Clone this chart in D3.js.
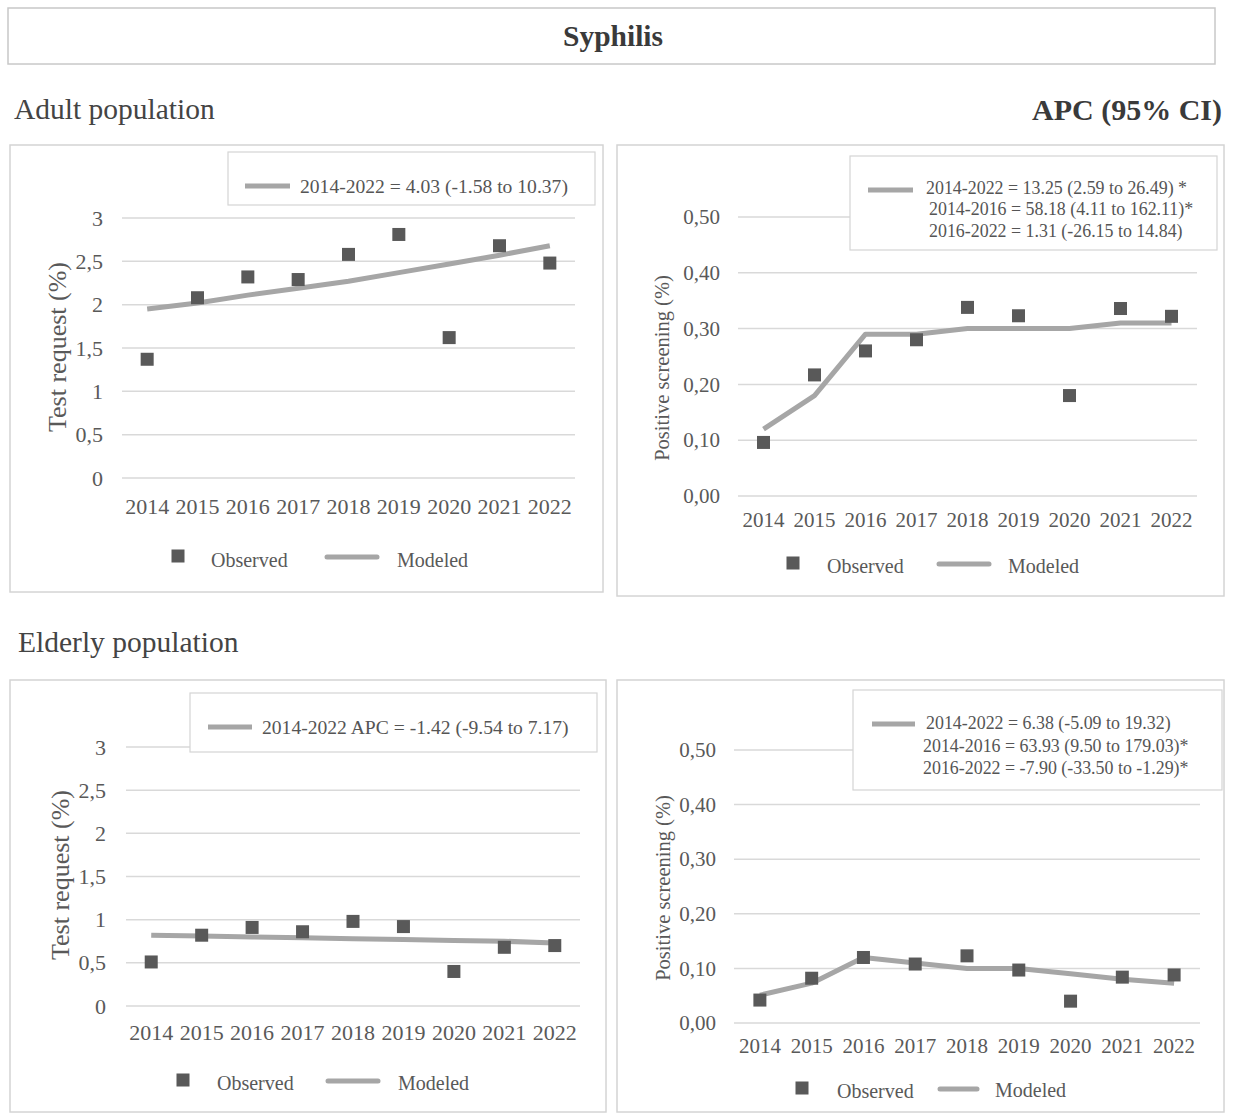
<!DOCTYPE html>
<html>
<head>
<meta charset="utf-8">
<script src="https://cdn.jsdelivr.net/npm/d3@7"></script>
<style>
  body { margin: 0; background: #fff; }
  text { font-family: "Liberation Serif", "Times New Roman", serif; }
</style>
</head>
<body>
<svg id="fig" width="1233" height="1113"></svg>
<script>
// Data
const years = [2014, 2015, 2016, 2017, 2018, 2019, 2020, 2021, 2022];

const adultTestObserved = [1.37, 2.08, 2.32, 2.29, 2.58, 2.81, 1.62, 2.68, 2.48];
const adultTestModeled  = [1.95, 2.02, 2.11, 2.19, 2.27, 2.37, 2.47, 2.57, 2.68];

const adultPosObserved = [0.096, 0.217, 0.26, 0.28, 0.338, 0.323, 0.18, 0.336, 0.322];
const adultPosModeled  = [0.12, 0.18, 0.29, 0.29, 0.30, 0.30, 0.30, 0.31, 0.31];

const elderlyTestObserved = [0.51, 0.82, 0.91, 0.86, 0.98, 0.92, 0.40, 0.68, 0.70];
const elderlyTestModeled  = [0.82, 0.81, 0.80, 0.79, 0.78, 0.77, 0.76, 0.75, 0.73];

const elderlyPosObserved = [0.042, 0.082, 0.12, 0.108, 0.123, 0.097, 0.04, 0.084, 0.088];
const elderlyPosModeled  = [0.051, 0.073, 0.12, 0.11, 0.10, 0.10, 0.09, 0.08, 0.073];

const testTicks = [0, 0.5, 1, 1.5, 2, 2.5, 3];
const posTicks = [0, 0.1, 0.2, 0.3, 0.4, 0.5];

const apcAdultTest = ["2014-2022 = 4.03 (-1.58 to 10.37)"];
const apcAdultPos = ["2014-2022 = 13.25 (2.59 to 26.49) *",
                     "2014-2016 = 58.18 (4.11 to 162.11)*",
                     "2016-2022 = 1.31 (-26.15 to 14.84)"];
const apcElderlyTest = ["2014-2022 APC = -1.42 (-9.54 to 7.17)"];
const apcElderlyPos = ["2014-2022 = 6.38 (-5.09 to 19.32)",
                       "2014-2016 = 63.93 (9.50 to 179.03)*",
                       "2016-2022 = -7.90 (-33.50 to -1.29)*"];

const legendLabels = ["Observed", "Modeled"];

// styling
const serif = '"Liberation Serif", "Times New Roman", serif';
const markColor = "#595959";
const lineColor = "#a6a6a6";
const gridColor = "#d9d9d9";
const textColor = "#595959";

const svg = d3.select("#fig");

// header
svg.append("rect")
  .attr("x", 8).attr("y", 8).attr("width", 1207).attr("height", 56)
  .attr("fill", "none").attr("stroke", "#c8c8c8").attr("stroke-width", 1.5);
svg.append("text")
  .attr("x", 613).attr("y", 36).attr("dy", "0.35em")
  .attr("text-anchor", "middle").attr("font-weight", "bold")
  .attr("font-size", 29.5).attr("fill", "#3a3a3a")
  .text("Syphilis");
svg.append("text")
  .attr("x", 14).attr("y", 109).attr("dy", "0.35em")
  .attr("font-size", 29.5).attr("fill", "#444")
  .text("Adult population");
svg.append("text")
  .attr("x", 1222).attr("y", 109).attr("dy", "0.35em")
  .attr("text-anchor", "end").attr("font-weight", "bold")
  .attr("font-size", 30).attr("fill", "#3a3a3a")
  .text("APC (95% CI)");
svg.append("text")
  .attr("x", 18).attr("y", 642).attr("dy", "0.35em")
  .attr("font-size", 29.5).attr("fill", "#444")
  .text("Elderly population");

const commaFmt = d => String(d).replace(".", ",");
const comma2Fmt = d => d3.format(".2f")(d).replace(".", ",");

function drawPanel(p) {
  const g = svg.append("g");

  // outer frame
  g.append("rect")
    .attr("x", p.frame[0]).attr("y", p.frame[1])
    .attr("width", p.frame[2] - p.frame[0]).attr("height", p.frame[3] - p.frame[1])
    .attr("fill", "none").attr("stroke", "#d4d4d4").attr("stroke-width", 1.5);

  const x = d3.scaleBand().domain(years).range([p.x0, p.x1]);
  const y = d3.scaleLinear().domain([0, d3.max(p.ticks)]).range([p.y0, p.y1]);
  const cx = d => x(d) + x.bandwidth() / 2;

  // gridlines
  g.selectAll(".grid").data(p.ticks).join("line")
    .attr("x1", p.x0).attr("x2", p.x1)
    .attr("y1", d => y(d)).attr("y2", d => y(d))
    .attr("stroke", gridColor).attr("stroke-width", 1.5);

  // y axis labels
  g.append("g")
    .attr("transform", `translate(${p.x0},0)`)
    .call(d3.axisLeft(y).tickValues(p.ticks).tickSize(0).tickPadding(p.yPad).tickFormat(p.fmt))
    .attr("font-family", serif).attr("font-size", p.tickFont)
    .call(a => a.select(".domain").remove())
    .selectAll("text").attr("fill", textColor);

  // x axis labels
  g.append("g")
    .attr("transform", `translate(0,${p.xLabelY})`)
    .call(d3.axisBottom(x).tickSize(0).tickPadding(0))
    .attr("font-family", serif).attr("font-size", p.tickFont)
    .call(a => a.select(".domain").remove())
    .selectAll("text").attr("fill", textColor).attr("dy", "0.35em");

  // y title
  g.append("text")
    .attr("transform", `translate(${p.yTitle[0]},${p.yTitle[1]}) rotate(-90)`)
    .attr("text-anchor", "middle").attr("dy", "0.35em")
    .attr("font-size", p.yTitleFont).attr("fill", textColor)
    .text(p.yLabel);

  // modeled line
  const line = d3.line().x((d, i) => cx(years[i])).y(d => y(d));
  g.append("path")
    .datum(p.modeled)
    .attr("d", line)
    .attr("fill", "none").attr("stroke", lineColor)
    .attr("stroke-width", 5).attr("stroke-linejoin", "round");

  // observed markers
  const ms = 13;
  g.selectAll(".obs").data(p.observed).join("rect")
    .attr("x", (d, i) => cx(years[i]) - ms / 2)
    .attr("y", d => y(d) - ms / 2)
    .attr("width", ms).attr("height", ms)
    .attr("fill", markColor);

  // APC box
  const b = p.apcBox;
  g.append("rect")
    .attr("x", b.x).attr("y", b.y).attr("width", b.w).attr("height", b.h)
    .attr("fill", "#fff").attr("stroke", "#d4d4d4").attr("stroke-width", 1.2);
  g.append("line")
    .attr("x1", b.lx0).attr("x2", b.lx1).attr("y1", b.ly).attr("y2", b.ly)
    .attr("stroke", lineColor).attr("stroke-width", 5);
  g.selectAll(".apc").data(p.apc).join("text")
    .attr("x", (d, i) => b.tx[i])
    .attr("y", (d, i) => b.ty[i]).attr("dy", "0.35em")
    .attr("font-size", b.font).attr("fill", "#555")
    .text(d => d);

  // bottom legend
  const L = p.legend;
  g.append("rect")
    .attr("x", L.sq[0] - ms / 2).attr("y", L.sq[1] - ms / 2)
    .attr("width", ms).attr("height", ms).attr("fill", markColor);
  g.append("text")
    .attr("x", L.obs[0]).attr("y", L.obs[1]).attr("dy", "0.35em")
    .attr("font-size", 20).attr("fill", textColor)
    .text(legendLabels[0]);
  g.append("line")
    .attr("x1", L.line[0]).attr("x2", L.line[1]).attr("y1", L.line[2]).attr("y2", L.line[2])
    .attr("stroke", lineColor).attr("stroke-width", 5).attr("stroke-linecap", "round");
  g.append("text")
    .attr("x", L.mod[0]).attr("y", L.mod[1]).attr("dy", "0.35em")
    .attr("font-size", 20).attr("fill", textColor)
    .text(legendLabels[1]);
}

drawPanel({
  frame: [10, 145, 603, 592],
  x0: 122, x1: 575, y0: 478, y1: 218,
  ticks: testTicks, fmt: commaFmt, yPad: 19, tickFont: 22,
  xLabelY: 506,
  yLabel: "Test request (%)", yTitle: [57, 347], yTitleFont: 26,
  observed: adultTestObserved, modeled: adultTestModeled,
  apc: apcAdultTest,
  apcBox: { x: 228, y: 152, w: 367, h: 53, lx0: 245, lx1: 290, ly: 186, tx: [300], ty: [186], font: 19.6 },
  legend: { sq: [178, 556], obs: [211, 560], line: [327, 377, 557], mod: [397, 560] }
});

drawPanel({
  frame: [617, 145, 1224, 596],
  x0: 738, x1: 1197, y0: 496, y1: 217,
  ticks: posTicks, fmt: comma2Fmt, yPad: 18, tickFont: 21,
  xLabelY: 520,
  yLabel: "Positive screening (%)", yTitle: [662, 368], yTitleFont: 20.5,
  observed: adultPosObserved, modeled: adultPosModeled,
  apc: apcAdultPos,
  apcBox: { x: 850, y: 156, w: 367, h: 94, lx0: 868, lx1: 913, ly: 190,
            tx: [926, 929, 929], ty: [188, 209, 231], font: 17.9 },
  legend: { sq: [793, 563], obs: [827, 566], line: [939, 989, 564], mod: [1008, 566] }
});

drawPanel({
  frame: [10, 680, 606, 1112],
  x0: 126, x1: 580, y0: 1006, y1: 747,
  ticks: testTicks, fmt: commaFmt, yPad: 20, tickFont: 22,
  xLabelY: 1032,
  yLabel: "Test request (%)", yTitle: [60, 875], yTitleFont: 26,
  observed: elderlyTestObserved, modeled: elderlyTestModeled,
  apc: apcElderlyTest,
  apcBox: { x: 190, y: 693, w: 407, h: 59, lx0: 208, lx1: 252, ly: 727, tx: [262], ty: [727], font: 19.6 },
  legend: { sq: [183, 1080], obs: [217, 1083], line: [328, 378, 1081], mod: [398, 1083] }
});

drawPanel({
  frame: [617, 680, 1224, 1112],
  x0: 734, x1: 1200, y0: 1023, y1: 750,
  ticks: posTicks, fmt: comma2Fmt, yPad: 18, tickFont: 21,
  xLabelY: 1046,
  yLabel: "Positive screening (%)", yTitle: [663, 888], yTitleFont: 20.5,
  observed: elderlyPosObserved, modeled: elderlyPosModeled,
  apc: apcElderlyPos,
  apcBox: { x: 853, y: 690, w: 369, h: 100, lx0: 872, lx1: 915, ly: 724,
            tx: [926, 923, 923], ty: [723, 746, 768], font: 17.9 },
  legend: { sq: [802, 1088], obs: [837, 1091], line: [940, 977, 1089], mod: [995, 1090] }
});
</script>
</body>
</html>
